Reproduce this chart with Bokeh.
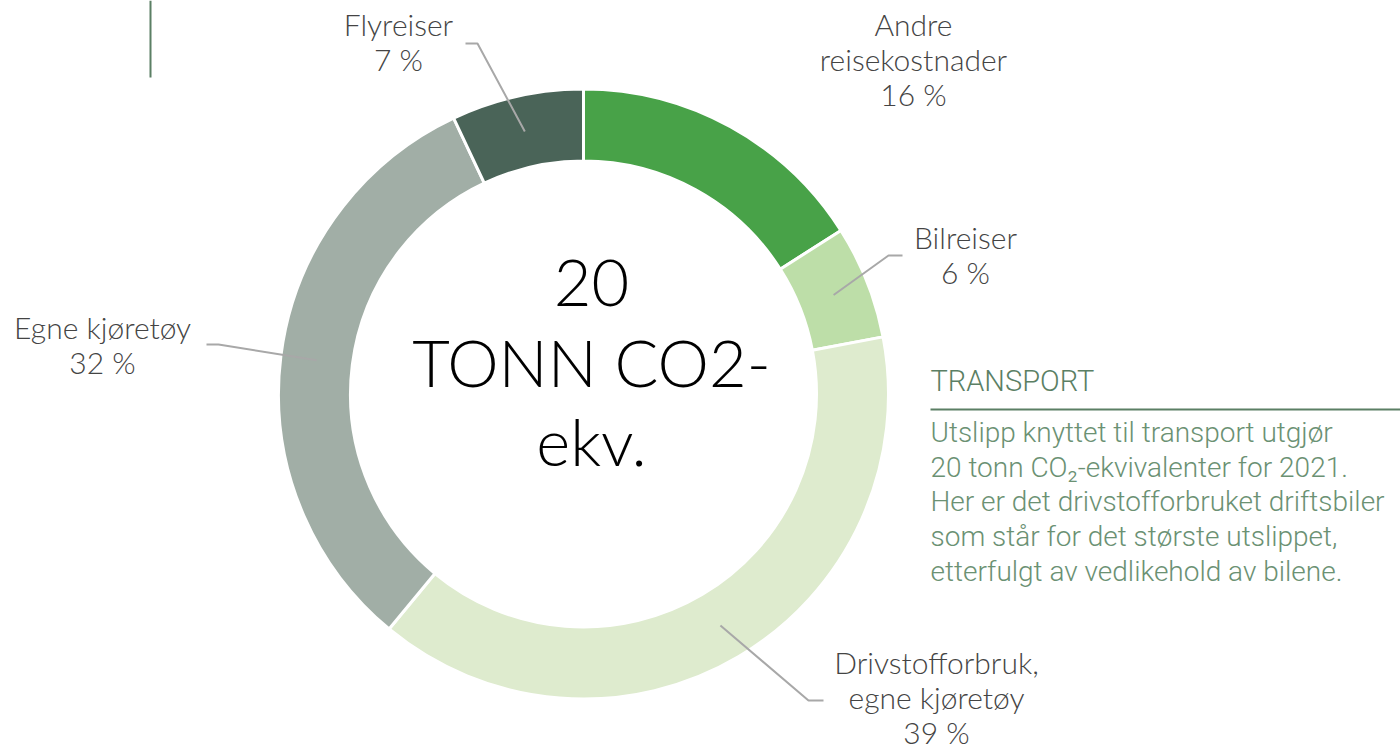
import math
from bokeh.plotting import figure
from bokeh.models import Range1d
from bokeh.embed import file_html
from bokeh.resources import INLINE
from bokeh.core.properties import value

# ---- data ----
categories = ["Andre\nreisekostnader", "Bilreiser", "Drivstofforbruk,\negne kjøretøy",
              "Egne kjøretøy", "Flyreiser"]
shares = [16, 6, 39, 32, 7]
colors = ["#48a248", "#bddea8", "#deebce", "#a1aea6", "#4a6458"]
center_lines = ["20", "TONN CO2-", "ekv."]
box_title = "TRANSPORT"
box_lines = ["Utslipp knyttet til transport utgjør",
             "20 tonn CO\u2082-ekvivalenter for 2021.",
             "Her er det drivstofforbruket driftsbiler",
             "som står for det største utslippet,",
             "etterfulgt av vedlikehold av bilene."]

# ---- layout (image pixel coordinates) ----
W, H = 1400, 751
def Y(img_y):
    return H - img_y

CX, CY = 583, 393.5
R_IN, R_OUT = 233, 305
R_MID = (R_IN + R_OUT) / 2

# correction: renderer places text lower than requested baseline (fraction of font size)
K_LATO = 0.37
K_ROBOTO = 0.40

# label anchor (center x, first baseline y) and leader elbow/end points
label_anchor = [(913, 35), (965, 248), (936, 673), (102, 338), (398, 35)]
leader_pts = [None, [(888, 255), (902, 255)], [(808, 700), (823, 700)],
              [(218, 344), (206, 344)], [(477, 43), (465, 43)]]
LINE_STEP = 35
LABEL_FONT = "'Lato Light', Lato"
LABEL_PX = 30

p = figure(width=W, height=H, x_range=Range1d(0, W), y_range=Range1d(0, H),
           output_backend="svg", toolbar_location=None,
           x_axis_location=None, y_axis_location=None, min_border=0)
p.grid.visible = False
p.outline_line_color = None
p.background_fill_color = "white"

total = float(sum(shares))
cum = 0.0
starts, ends, mids = [], [], []
for s in shares:
    a0 = math.pi / 2 - 2 * math.pi * cum / total
    cum += s
    a1 = math.pi / 2 - 2 * math.pi * cum / total
    starts.append(a0)
    ends.append(a1)
    mids.append((a0 + a1) / 2)

p.annular_wedge(x=CX, y=Y(CY), inner_radius=R_IN, outer_radius=R_OUT,
                start_angle=starts, end_angle=ends, direction="clock",
                fill_color=colors, line_color="white", line_width=3)

# leader lines
for i, pts in enumerate(leader_pts):
    if pts is None:
        continue
    sx = CX + R_MID * math.cos(mids[i])
    sy = CY - R_MID * math.sin(mids[i])
    xs = [sx] + [q[0] for q in pts]
    ys = [Y(sy)] + [Y(q[1]) for q in pts]
    p.line(xs, ys, line_color="#a8a8a8", line_width=2)

# labels
for i, cat in enumerate(categories):
    lines = cat.split("\n") + [f"{shares[i]} %"]
    ax, ay = label_anchor[i]
    ys = [Y(ay + k * LINE_STEP - K_LATO * LABEL_PX) for k in range(len(lines))]
    p.text(x=[ax] * len(lines), y=ys,
           text=lines, text_align="center", text_baseline="alphabetic",
           text_font=value(LABEL_FONT), text_font_size=f"{LABEL_PX}px", text_color="#444444")

# center text
CENTER_PX = 65
center_base = [307, 386, 465]
p.text(x=[591] * 3, y=[Y(b - K_LATO * CENTER_PX) for b in center_base], text=center_lines,
       text_align="center", text_baseline="alphabetic",
       text_font=value("'Lato Light', Lato"), text_font_size=f"{CENTER_PX}px",
       text_color="#000000")

# top-left rule
p.line([150, 150], [Y(0), Y(77)], line_color="#5b7f64", line_width=2)

# text box
TITLE_PX = 29
p.text(x=[930], y=[Y(392 - K_ROBOTO * TITLE_PX)], text=[box_title], text_align="left",
       text_baseline="alphabetic", text_font=value("'Roboto Light', Roboto"),
       text_font_size=f"{TITLE_PX}px", text_color="#5b7f64")
p.line([930, 1400], [Y(409), Y(409)], line_color="#5b7f64", line_width=2)
BODY_PX = 28
body_base = [443, 477.75, 512.5, 547.25, 582]
p.text(x=[930] * len(box_lines), y=[Y(b - K_ROBOTO * BODY_PX) for b in body_base],
       text=box_lines, text_align="left", text_baseline="alphabetic",
       text_font=value("'Roboto Light', Roboto"), text_font_size=f"{BODY_PX}px",
       text_color="#6b9173")

open("out.html", "w").write(file_html(p, INLINE))
